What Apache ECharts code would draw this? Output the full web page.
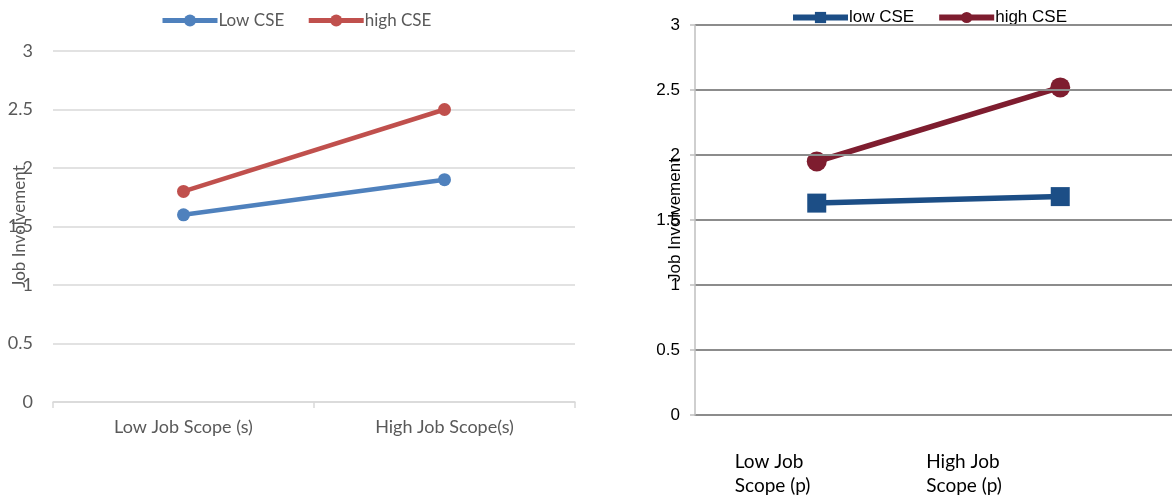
<!DOCTYPE html>
<html>
<head>
<meta charset="utf-8">
<script src="https://cdn.jsdelivr.net/npm/echarts@6/dist/echarts.min.js"></script>
<style>
  html, body { margin: 0; padding: 0; background: #fff; }
  #wrap { position: relative; width: 1172px; height: 497px; overflow: hidden; }
  #left { position: absolute; left: 0; top: 0; width: 640px; height: 497px; }
  #right { position: absolute; left: 640px; top: 0; width: 532px; height: 497px; }
</style>
</head>
<body>
<div id="wrap">
  <div id="left"></div>
  <div id="right"></div>
</div>
<script>
// Left panel: job scope (s)
const catsS = ['Low Job Scope (s)', 'High Job Scope(s)'];
const namesS = ['Low CSE', 'high CSE'];
const lowCseS = [1.6, 1.9];
const highCseS = [1.8, 2.5];

// Right panel: job scope (p)
const catsP = ['Low Job\nScope (p)', 'High Job\nScope (p)'];
const namesP = ['low CSE', 'high CSE'];
const lowCseP = [1.63, 1.68];
const highCseP = [1.95, 2.52];

const yTitle = 'Job Involvement';
const yMin = 0, yMax = 3, yStep = 0.5;

// ---------- left chart ----------
const left = echarts.init(document.getElementById('left'), null, { renderer: 'canvas' });
left.setOption({
  animation: false,
  textStyle: { fontFamily: 'Lato' },
  legend: {
    top: 12, left: 160, padding: 0,
    itemWidth: 55, itemHeight: 15, itemGap: 22,
    lineStyle: { width: 5 },
    textStyle: { fontFamily: 'Lato', fontSize: 17, color: '#595959', padding: [0, 0, 0, -4] },
    data: namesS
  },
  grid: { left: 53, right: 65, top: 51, bottom: 95, outerBoundsMode: 'none' },
  xAxis: {
    type: 'category', data: catsS, boundaryGap: true,
    axisLine: { lineStyle: { color: '#d9d9d9', width: 1.5 } },
    axisTick: { show: true, length: 6, lineStyle: { color: '#d9d9d9', width: 1.5 } },
    axisLabel: { color: '#595959', fontSize: 18, fontFamily: 'Lato', margin: 16 }
  },
  yAxis: {
    type: 'value', min: yMin, max: yMax, interval: yStep,
    name: yTitle, nameLocation: 'middle', nameGap: 25, nameMoveOverlap: false,
    nameTextStyle: { color: '#595959', fontSize: 17, fontFamily: 'Lato' },
    axisLine: { show: false }, axisTick: { show: false },
    axisLabel: { color: '#595959', fontSize: 18, fontFamily: 'Lato', margin: 20 },
    splitLine: { lineStyle: { color: '#d9d9d9', width: 1.5 } }
  },
  series: [
    {
      name: namesS[0], type: 'line', data: lowCseS,
      symbol: 'circle', symbolSize: 13,
      color: '#4F81BD', lineStyle: { width: 4.5, color: '#4F81BD' }
    },
    {
      name: namesS[1], type: 'line', data: highCseS,
      symbol: 'circle', symbolSize: 13,
      color: '#C0504D', lineStyle: { width: 4.5, color: '#C0504D' }
    }
  ]
});

// ---------- right chart ----------
const right = echarts.init(document.getElementById('right'), null, { renderer: 'canvas' });
const arial = 'Liberation Sans, Arial, sans-serif';
right.setOption({
  animation: false,
  textStyle: { fontFamily: arial },
  legend: {
    top: 9, left: 150, padding: 0,
    itemWidth: 55, itemHeight: 14, itemGap: 22,
    lineStyle: { width: 6 },
    textStyle: { fontFamily: arial, fontSize: 17, color: '#000', padding: [0, 0, 0, -4] },
    data: namesP
  },
  grid: { left: 55, right: -10, top: 25, bottom: 82, outerBoundsMode: 'none' },
  xAxis: {
    type: 'category', data: catsP, boundaryGap: true,
    axisLine: { lineStyle: { color: '#8c8c8c', width: 2 } },
    axisTick: { show: false },
    axisLabel: { show: false }
  },
  yAxis: {
    type: 'value', min: yMin, max: yMax, interval: yStep,
    name: yTitle, nameLocation: 'middle', nameGap: 11, nameMoveOverlap: false, z: 5,
    nameTextStyle: { color: '#000', fontSize: 17, fontFamily: arial },
    axisLine: { show: true, lineStyle: { color: '#bfbfbf', width: 1.5 } },
    axisTick: { show: true, length: 5, lineStyle: { color: '#bfbfbf', width: 1.5 } },
    axisLabel: { color: '#000', fontSize: 17, fontFamily: arial, margin: 15 },
    splitLine: { lineStyle: { color: '#8c8c8c', width: 2 } }
  },
  series: [
    {
      name: namesP[0], type: 'line', data: lowCseP,
      symbol: 'rect', symbolSize: 19,
      color: '#1C4E86', lineStyle: { width: 5.5, color: '#1C4E86' }
    },
    {
      name: namesP[1], type: 'line', data: highCseP,
      symbol: 'circle', symbolSize: 20,
      color: '#7E1D2F', lineStyle: { width: 5.5, color: '#7E1D2F' }
    }
  ]
});

// Category labels under the right panel, set off to the left of each category
const labelShift = [-82, -134];
const baseY = right.convertToPixel({ yAxisIndex: 0 }, yMin);
right.setOption({
  graphic: catsP.map((c, i) => ({
    type: 'text',
    x: right.convertToPixel({ xAxisIndex: 0 }, c) + labelShift[i],
    y: baseY + 35,
    style: {
      text: c, fill: '#000', font: '19px Lato',
      lineHeight: 24, textAlign: 'left', textVerticalAlign: 'top'
    }
  }))
});
</script>
</body>
</html>
